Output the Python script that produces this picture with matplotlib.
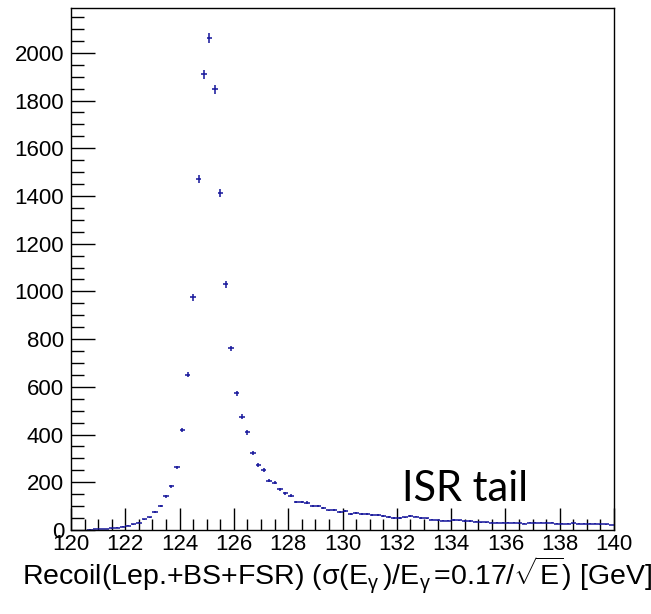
import numpy as np
import matplotlib
matplotlib.use("Agg")
import matplotlib.pyplot as plt
from matplotlib.ticker import MultipleLocator

# recoil mass histogram, 0.2 GeV bins from 120 to 140
bin_lo = 120.0
bin_w = 0.2
counts = [
    0, 0, 0, 2, 3, 4, 5, 7, 10, 14,
    18, 24, 31, 45, 53, 75, 100, 141, 184, 263,
    418, 651, 975, 1471, 1910, 2063, 1847, 1414, 1030, 761,
    574, 475, 409, 323, 272, 251, 207, 198, 171, 154,
    144, 116, 118, 115, 102, 101, 92, 82, 85, 74,
    80, 68, 71, 67, 66, 63, 62, 59, 54, 51,
    50, 53, 59, 56, 51, 49, 44, 40, 39, 39,
    42, 41, 38, 38, 34, 32, 32, 31, 31, 31,
    31, 30, 28, 27, 31, 31, 30, 31, 30, 27,
    27, 27, 28, 27, 27, 27, 26, 24, 24, 21,
]
# event weight (errors are sqrt of sum of squared weights)
evt_weight = 0.187

xlabel = (r"Recoil(Lep.+BS+FSR) ($\mathrm{\sigma}$(E$_{\mathrm{\gamma}}\,$)"
          r"/E$_{\mathrm{\gamma}}\,$=0.17/$\sqrt{\mathrm{E}}$) [GeV]")
note = "ISR tail"

plt.rcParams["font.family"] = ["Liberation Sans", "DejaVu Sans"]
plt.rcParams["mathtext.fontset"] = "custom"
plt.rcParams["mathtext.rm"] = "Liberation Sans"
plt.rcParams["mathtext.it"] = "Liberation Sans:italic"
plt.rcParams["mathtext.sf"] = "Liberation Sans"

counts = np.array(counts, dtype=float)
centers = bin_lo + bin_w * (np.arange(len(counts)) + 0.5)
errs = np.sqrt(counts * evt_weight)
keep = counts > 0

W, H = 651, 614
fig = plt.figure(figsize=(W / 100, H / 100), dpi=100)
ax = fig.add_axes([71 / W, 1 - 530 / H, (614 - 71) / W, (530 - 8) / H])

col = "#14149a"
ax.errorbar(centers[keep], counts[keep], xerr=bin_w / 2, yerr=errs[keep],
            fmt="none", ecolor=col, elinewidth=1.1, capsize=0)

ax.set_xlim(120, 140)
ax.set_ylim(0, 2188)
ax.xaxis.set_major_locator(MultipleLocator(2))
ax.xaxis.set_minor_locator(MultipleLocator(0.5))
ax.yaxis.set_major_locator(MultipleLocator(200))
ax.yaxis.set_minor_locator(MultipleLocator(50))
ax.tick_params(which="both", direction="in", top=False, right=False,
               labelsize=16, width=1.0, color="black")
ax.tick_params(axis="y", which="major", length=17, pad=5)
ax.tick_params(axis="y", which="minor", length=9)
ax.tick_params(axis="x", which="major", length=16, pad=3)
ax.tick_params(axis="x", which="minor", length=8)
for s in ax.spines.values():
    s.set_linewidth(1.0)

ax.text(132.2, 123, note, fontsize=30, family=["Lato", "DejaVu Sans"],
        ha="left", va="baseline")

fig.text(22 / W, 1 - 585.5 / H, xlabel, fontsize=20.5, ha="left", va="baseline")

fig.savefig("out.png", dpi=100)
plt.close(fig)
